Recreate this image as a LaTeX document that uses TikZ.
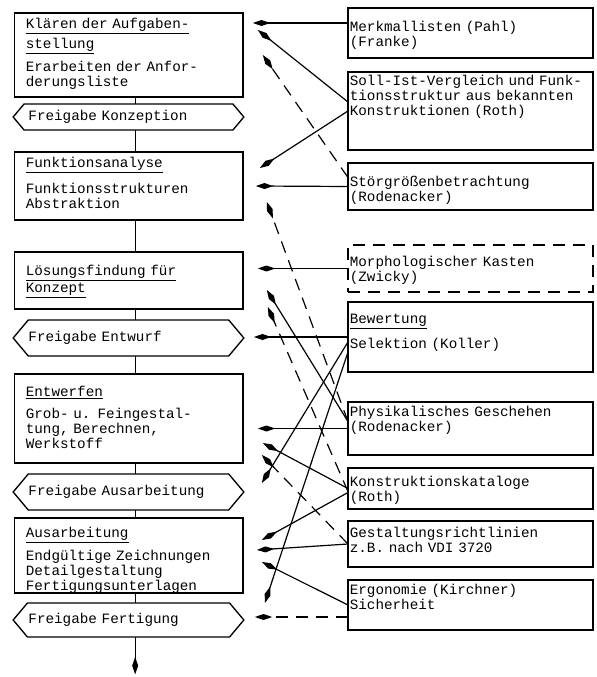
\documentclass[tikz,border=0pt]{standalone}
\usepackage{fontspec}
\setmonofont{Liberation Mono}
\usetikzlibrary{positioning,shapes.symbols,arrows.meta}

\begin{document}
\begin{tikzpicture}[x=0.75pt, y=-0.75pt,
    font=\fontsize{10.7pt}{11.25pt}\selectfont\ttfamily,
    schritt/.style={draw, line width=1pt, anchor=north, align=left, outer sep=0pt,
                    text width=154pt, inner xsep=8.75pt, inner ysep=0pt},
    freigabe/.style={draw, line width=1pt, signal, signal to=east and west, outer sep=0pt,
                     signal pointer angle=100, minimum width=173pt,
                     text width=150pt, inner xsep=0pt, align=left},
    methode/.style={draw, line width=1pt, anchor=north, align=left, outer sep=0pt,
                    text width=181pt, inner xsep=1.4pt, inner ysep=0pt},
    fluss/.style={line width=1pt},
    ref/.style={line width=0.9pt, -{Kite[length=13pt, width=4.5pt, inset=6.5pt]}},
    gestrichelt/.style={dash pattern=on 9pt off 6pt}]
    \useasboundingbox (0,0) rectangle (596,677);

    % Arbeitsschritte
    \node[schritt, text height=11.7pt, text depth=51.3pt] (klaeren) at (128.5,13)
        {\underline{Klären der Aufgaben-}\\[2.25pt]\underline{stellung}\\[3.75pt]Erarbeiten der Anfor-\\derungsliste};
    \node[freigabe, minimum height=19.5pt, below=5.25pt of klaeren] (fkonz) {Freigabe Konzeption};
    \node[schritt, text height=11.7pt, text depth=39.3pt, below=16.5pt of fkonz] (funktion)
        {\underline{Funktionsanalyse}\\[6.75pt]Funktionsstrukturen\\Abstraktion};
    \node[schritt, text height=17.7pt, text depth=25.05pt, below=24pt of funktion] (loesung)
        {\underline{Lösungsfindung für}\\\underline{Konzept}};
    \node[freigabe, minimum height=27pt, below=8.25pt of loesung] (fentw) {Freigabe Entwurf};
    \node[schritt, text height=16.95pt, text depth=49.8pt, below=13.5pt of fentw] (entwerfen)
        {\underline{Entwerfen}\\[5.25pt]Grob- u. Feingestal-\\tung, Berechnen,\\Werkstoff};
    \node[freigabe, minimum height=27pt, below=8.25pt of entwerfen] (fausarb) {Freigabe Ausarbeitung};
    \node[schritt, text height=14.7pt, text depth=41.55pt, below=6pt of fausarb] (ausarb)
        {\underline{Ausarbeitung}\\[4pt]Endgültige Zeichnungen\\Detailgestaltung\\Fertigungsunterlagen};
    \node[freigabe, minimum height=25.5pt, below=7.5pt of ausarb] (ffert) {Freigabe Fertigung};
    \coordinate[below=28pt of ffert] (ende);

    % Methoden
    \node[methode, text height=17.7pt, text depth=19.8pt] (merkmal) at (470.5,8)
        {Merkmallisten (Pahl)\\(Franke)};
    \node[methode, text height=10.2pt, text depth=48.3pt, below=10.5pt of merkmal] (sollist)
        {Soll-Ist-Vergleich und Funk-\\tionsstruktur aus bekannten\\Konstruktionen (Roth)};
    \node[methode, text height=17.7pt, text depth=17.55pt, below=9.75pt of sollist] (stoer)
        {Störgrößenbetrachtung\\(Rodenacker)};
    \node[methode, gestrichelt, text height=16.2pt, text depth=19.05pt, below=26.25pt of stoer] (morph)
        {Morphologischer Kasten\\(Zwicky)};
    \node[methode, text height=16.2pt, text depth=36.3pt, below=7.5pt of morph] (bewert)
        {\underline{Bewertung}\\[6pt]Selektion (Koller)};
    \node[methode, text height=11pt, text depth=28.75pt, below=22.5pt of bewert] (physik)
        {Physikalisches Geschehen\\(Rodenacker)};
    \node[methode, text height=14pt, text depth=16.75pt, below=9.75pt of physik] (katalog)
        {Konstruktionskataloge\\(Roth)};
    \node[methode, text height=12.5pt, text depth=22pt, below=9pt of katalog] (gestalt)
        {Gestaltungsrichtlinien\\z.B. nach VDI 3720};
    \node[methode, text height=11pt, text depth=26.5pt, below=9.75pt of gestalt] (ergo)
        {Ergonomie (Kirchner)\\Sicherheit};

    % Ablauf
    \foreach \von/\nach in {klaeren/fkonz, fkonz/funktion, funktion/loesung, loesung/fentw,
                            fentw/entwerfen, entwerfen/fausarb, fausarb/ausarb, ausarb/ffert}
        \draw[fluss] ([xshift=5pt]\von.south) -- ([xshift=5pt]\nach.north);
    \draw[ref] ([xshift=5pt]ffert.south) -- ([xshift=5pt]ende);

    % Zuordnung der Methoden
    \draw[ref] ([shift={(0,-10)}]merkmal.west) -- ([shift={(10,-32)}]klaeren.east);
    \draw[ref] ([shift={(0,-9)}]sollist.west) -- ([shift={(15,-25)}]klaeren.east);
    \draw[ref, gestrichelt] ([shift={(0,-9)}]stoer.west) -- ([shift={(20,0)}]klaeren.east);
    \draw[ref] (sollist.west) -- ([shift={(17,-18)}]funktion.east);
    \draw[ref] (stoer.west) -- ([shift={(13,0)}]funktion.east);
    \draw[ref, gestrichelt] ([shift={(0,-7)}]physik.west) -- ([shift={(24,16)}]funktion.east);
    \draw[ref] (morph.west) -- ([shift={(15,-12)}]loesung.east);
    \draw[ref] ([shift={(0,-7)}]physik.west) -- ([shift={(24,9.5)}]loesung.east);
    \draw[ref, gestrichelt] ([shift={(0,3)}]katalog.west) -- ([shift={(25,26.5)}]loesung.east);
    \draw[ref] (bewert.west) -- ([shift={(10,-1)}]fentw.east);
    \draw[ref] (physik.west) -- ([shift={(15,10)}]entwerfen.east);
    \draw[ref] (katalog.west) -- ([shift={(20,24.5)}]entwerfen.east);
    \draw[ref, gestrichelt] (gestalt.west) -- ([shift={(19,36.5)}]entwerfen.east);
    \draw[ref] ([shift={(0,5)}]bewert.west) -- ([shift={(18,-9)}]fausarb.east);
    \draw[ref] ([shift={(0,4)}]katalog.west) -- ([shift={(19,-15.5)}]ausarb.east);
    \draw[ref] (gestalt.west) -- ([shift={(14,-5.5)}]ausarb.east);
    \draw[ref] (ergo.west) -- ([shift={(19,6.5)}]ausarb.east);
    \draw[ref] ([shift={(0,15)}]bewert.west) -- ([shift={(21,-17)}]ffert.east);
    \draw[ref, gestrichelt] ([shift={(0,12)}]ergo.west) -- ([shift={(11,-3)}]ffert.east);
\end{tikzpicture}
\end{document}
